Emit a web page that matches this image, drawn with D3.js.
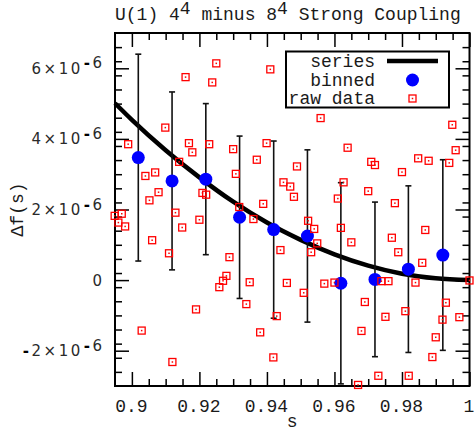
<!DOCTYPE html>
<html>
<head>
<meta charset="utf-8">
<script src="https://cdn.jsdelivr.net/npm/d3@7"></script>
<style>
  body { margin: 0; background: #fff; }
  svg { display: block; }
</style>
</head>
<body>
<svg id="chart" width="474" height="432"></svg>
<script>
// Smooth series curve, sampled along s
const seriesS = [0.895, 0.90, 0.91, 0.92, 0.93, 0.94, 0.95, 0.96, 0.97, 0.98, 0.99, 1.0];
const seriesF = [5.01e-6, 4.54e-6, 3.68e-6, 2.91e-6, 2.22e-6, 1.63e-6, 1.14e-6, 0.73e-6, 0.41e-6, 0.18e-6, 0.05e-6, 0.0];

// Binned means with their error bars
const binS    = [0.9019, 0.9119, 0.9219, 0.9319, 0.9420, 0.9520, 0.9619, 0.9720, 0.9819, 0.9921];
const binMean = [3.47e-6, 2.81e-6, 2.86e-6, 1.78e-6, 1.43e-6, 1.25e-6, -0.09e-6, 0.02e-6, 0.31e-6, 0.71e-6];
const binErr  = [2.93e-6, 2.52e-6, 2.14e-6, 2.30e-6, 2.51e-6, 2.44e-6, 2.85e-6, 2.19e-6, 2.36e-6, 2.70e-6];

// Raw measurements
const rawS = [
  0.8989, 0.9040, 0.9069, 0.9079, 0.9052, 0.8949, 0.8970, 0.8960, 0.8980, 0.9060,
  0.9029, 0.9250, 0.9159, 0.9238, 0.9410, 0.9099, 0.9169, 0.9179, 0.9229, 0.9300,
  0.9399, 0.9370, 0.9140, 0.9308, 0.9489, 0.9559, 0.9449, 0.9469, 0.9480, 0.9209,
  0.9220, 0.9389, 0.9318, 0.9129, 0.9200, 0.9360, 0.9522, 0.9149, 0.9540, 0.9549,
  0.9531, 0.9110, 0.9289, 0.9440, 0.9280, 0.9270, 0.9259, 0.9349, 0.9459, 0.9509,
  0.9339, 0.9190, 0.9429, 0.9380, 0.9419, 0.9120, 0.9639, 0.9709, 0.9720, 0.9627,
  0.9610, 0.9700, 0.9779, 0.9800, 0.9848, 0.9879, 0.9940, 0.9959, 0.9949, 0.9619,
  0.9869, 0.9650, 0.9770, 0.9789, 0.9860, 0.9570, 0.9600, 0.9739, 0.9760, 0.9840,
  1.0000, 0.9690, 0.9930, 0.9751, 0.9810, 0.9920, 0.9970, 0.9680, 0.9900, 0.9890,
  0.9730, 0.9820, 0.9670
];
const rawF = [
  3.85e-6, 2.95e-6, 3.05e-6, 2.49e-6, 2.26e-6, 1.82e-6, 1.88e-6, 1.63e-6, 1.52e-6, 1.13e-6,
  -1.43e-6, 6.14e-6, 5.75e-6, 5.60e-6, 5.97e-6, 4.32e-6, 3.88e-6, 3.62e-6, 3.85e-6, 3.71e-6,
  3.88e-6, 3.41e-6, 3.35e-6, 3.01e-6, 3.22e-6, 4.59e-6, 2.77e-6, 2.65e-6, 2.36e-6, 2.47e-6,
  2.42e-6, 2.16e-6, 2.07e-6, 1.91e-6, 1.71e-6, 1.73e-6, 1.68e-6, 1.49e-6, 1.45e-6, 1.04e-6,
  0.79e-6, 0.76e-6, 0.65e-6, 0.85e-6, 0.12e-6, -0.02e-6, -0.20e-6, -0.06e-6, -0.08e-6, -0.36e-6,
  -0.68e-6, -0.83e-6, -1.02e-6, -1.48e-6, -2.19e-6, -2.32e-6, 3.75e-6, 3.35e-6, 3.26e-6, 2.77e-6,
  2.31e-6, 2.52e-6, 2.18e-6, 3.06e-6, 3.45e-6, 3.38e-6, 3.32e-6, 3.68e-6, 4.40e-6, 1.48e-6,
  1.42e-6, 1.07e-6, 1.20e-6, 0.79e-6, 0.49e-6, -0.10e-6, -0.07e-6, -0.03e-6, -0.03e-6, -0.07e-6,
  -0.01e-6, -0.62e-6, -0.64e-6, -1.04e-6, -0.88e-6, -1.12e-6, -1.05e-6, -1.44e-6, -1.62e-6, -2.18e-6,
  -2.71e-6, -2.71e-6, -2.97e-6
];

// Tick values and labels
const xTickValues = [0.9, 0.92, 0.94, 0.96, 0.98, 1.0];
const xTickLabels = ["0.9", "0.92", "0.94", "0.96", "0.98", "1"];
const yTickValues = [-2e-6, 0, 2e-6, 4e-6, 6e-6];
const yTickMantissas = ["-2", "0", "2", "4", "6"];
const yTickExponent = "-6";

const legendLabels = ["series", "binned", "raw data"];

const mono = "'Liberation Mono', 'Courier New', monospace";
const sans = "'DejaVu Sans', sans-serif";
const textColor = "#1a1a1a";

const svg = d3.select("#chart");
svg.append("rect").attr("width", 474).attr("height", 432).attr("fill", "#fff");

const x = d3.scaleLinear().domain([0.895, 1.0]).range([115, 469.5]);
const y = d3.scaleLinear().domain([-3e-6, 7e-6]).range([386, 33]);
const [x0, x1] = x.range();
const [y0, y1] = y.range();

// Minor tick positions
const xMinor = d3.range(22).map(i => +(0.895 + i * 0.005).toFixed(4))
  .filter(v => v > 0.8951 && v < 0.9999 && !xTickValues.some(t => Math.abs(t - v) < 1e-6));
const yMinor = d3.range(26).map(i => +(-3 + i * 0.4).toFixed(2))
  .filter(v => v > -2.999 && v < 6.999 && Math.abs(v / 2 - Math.round(v / 2)) > 1e-6)
  .map(v => v * 1e-6);

function styleAxis(g) {
  g.select(".domain").remove();
  g.selectAll(".tick line").attr("stroke", "#000").attr("stroke-width", 1.5);
}

// Bottom axis (ticks point inward)
svg.append("g").attr("transform", `translate(0,${y0})`)
  .call(d3.axisBottom(x).tickValues(xTickValues).tickSize(-14).tickPadding(13)
    .tickFormat((d, i) => xTickLabels[i]))
  .call(styleAxis)
  .call(g => g.selectAll(".tick text").attr("font-family", mono).attr("font-size", 18)
    .attr("fill", textColor).attr("dx", -1));
svg.append("g").attr("transform", `translate(0,${y0})`)
  .call(d3.axisBottom(x).tickValues(xMinor).tickSize(-7).tickFormat(""))
  .call(styleAxis);

// Top axis
svg.append("g").attr("transform", `translate(0,${y1})`)
  .call(d3.axisTop(x).tickValues(xTickValues).tickSize(-14).tickFormat(""))
  .call(styleAxis);
svg.append("g").attr("transform", `translate(0,${y1})`)
  .call(d3.axisTop(x).tickValues(xMinor).tickSize(-7).tickFormat(""))
  .call(styleAxis);

// Left axis
svg.append("g").attr("transform", `translate(${x0},0)`)
  .call(d3.axisLeft(y).tickValues(yTickValues).tickSize(-14).tickFormat(""))
  .call(styleAxis);
svg.append("g").attr("transform", `translate(${x0},0)`)
  .call(d3.axisLeft(y).tickValues(yMinor).tickSize(-7).tickFormat(""))
  .call(styleAxis);

// Right axis
svg.append("g").attr("transform", `translate(${x1},0)`)
  .call(d3.axisRight(y).tickValues(yTickValues).tickSize(-14).tickFormat(""))
  .call(styleAxis);
svg.append("g").attr("transform", `translate(${x1},0)`)
  .call(d3.axisRight(y).tickValues(yMinor).tickSize(-7).tickFormat(""))
  .call(styleAxis);

// Y tick labels: mantissa ×10 with raised exponent
yTickValues.forEach((v, i) => {
  const m = yTickMantissas[i];
  const t = svg.append("text")
    .attr("x", 104.5).attr("y", y(v) + 5.5)
    .attr("text-anchor", "end")
    .attr("font-family", sans).attr("font-size", 15)
    .attr("letter-spacing", 2.5).attr("fill", "#2a2a2a");
  if (m === "0") { t.text("0"); return; }
  if (m.startsWith("-")) t.append("tspan").attr("font-weight", "bold").attr("fill", "#000").text("-");
  t.append("tspan").text(m.replace("-", "") + "×10");
  t.append("tspan").attr("dx", 1).attr("dy", -5.5).attr("font-weight", "bold").attr("fill", "#000").text(yTickExponent[0]);
  t.append("tspan").text(yTickExponent.slice(1));
});

// Plot frame
svg.append("rect")
  .attr("x", x0).attr("y", y1).attr("width", x1 - x0).attr("height", y0 - y1)
  .attr("fill", "none").attr("stroke", "#000").attr("stroke-width", 2);

// Series curve
const line = d3.line().x((d, i) => x(seriesS[i])).y(d => y(d)).curve(d3.curveMonotoneX);
svg.append("path").datum(seriesF)
  .attr("d", line).attr("fill", "none").attr("stroke", "#000").attr("stroke-width", 4.5);

// Error bars
const bars = svg.append("g").attr("stroke", "#111").attr("stroke-width", 1.6);
binS.forEach((s, i) => {
  const cx = x(s), top = y(binMean[i] + binErr[i]), bot = y(binMean[i] - binErr[i]);
  bars.append("line").attr("x1", cx).attr("x2", cx).attr("y1", top).attr("y2", bot);
  bars.append("line").attr("x1", cx - 3).attr("x2", cx + 3).attr("y1", top).attr("y2", top);
  bars.append("line").attr("x1", cx - 3).attr("x2", cx + 3).attr("y1", bot).attr("y2", bot);
});

// Binned means
svg.append("g").selectAll("circle").data(binMean).join("circle")
  .attr("cx", (d, i) => x(binS[i])).attr("cy", d => y(d)).attr("r", 6.5).attr("fill", "#0000ff");

// Raw data squares with centre dot
function rawMarker(g, cx, cy) {
  g.append("rect").attr("x", cx - 3.5).attr("y", cy - 3.5).attr("width", 7).attr("height", 7)
    .attr("fill", "none").attr("stroke", "#ff0000").attr("stroke-width", 1.3);
  g.append("rect").attr("x", cx - 0.75).attr("y", cy - 0.75).attr("width", 1.5).attr("height", 1.5)
    .attr("fill", "#ff0000");
}
const rawG = svg.append("g");
rawF.forEach((f, i) => rawMarker(rawG, x(rawS[i]), y(f)));

// Legend
const lg = svg.append("g");
lg.append("rect").attr("x", 286).attr("y", 51.5).attr("width", 163).attr("height", 56)
  .attr("fill", "#fff").attr("stroke", "#000").attr("stroke-width", 2);
const legendY = [67, 85.5, 104];
legendLabels.forEach((lab, i) => {
  lg.append("text").attr("x", 375).attr("y", legendY[i]).attr("text-anchor", "end")
    .attr("font-family", mono).attr("font-size", 18).attr("fill", textColor).text(lab);
});
lg.append("line").attr("x1", 387).attr("x2", 438).attr("y1", 61).attr("y2", 61)
  .attr("stroke", "#000").attr("stroke-width", 4.5);
lg.append("circle").attr("cx", 412.5).attr("cy", 80).attr("r", 6.5).attr("fill", "#0000ff");
rawMarker(lg, 412.5, 98.5);

// Title
const title = svg.append("text").attr("x", 115).attr("y", 20)
  .attr("font-family", mono).attr("font-size", 18).attr("fill", textColor);
title.append("tspan").text("U(1) 4");
title.append("tspan").attr("dy", -6).text("4");
title.append("tspan").attr("dy", 6).text(" minus 8");
title.append("tspan").attr("dy", -6).text("4");
title.append("tspan").attr("dy", 6).text(" Strong Coupling");

// Axis titles
svg.append("text").attr("x", (x0 + x1) / 2).attr("y", 426.5).attr("text-anchor", "middle")
  .attr("font-family", mono).attr("font-size", 18).attr("fill", textColor).text("s");
svg.append("text")
  .attr("transform", `translate(23,${(y0 + y1) / 2}) rotate(-90)`)
  .attr("text-anchor", "middle")
  .attr("font-family", mono).attr("font-size", 18).attr("fill", textColor).text("Δf(s)");
</script>
</body>
</html>
